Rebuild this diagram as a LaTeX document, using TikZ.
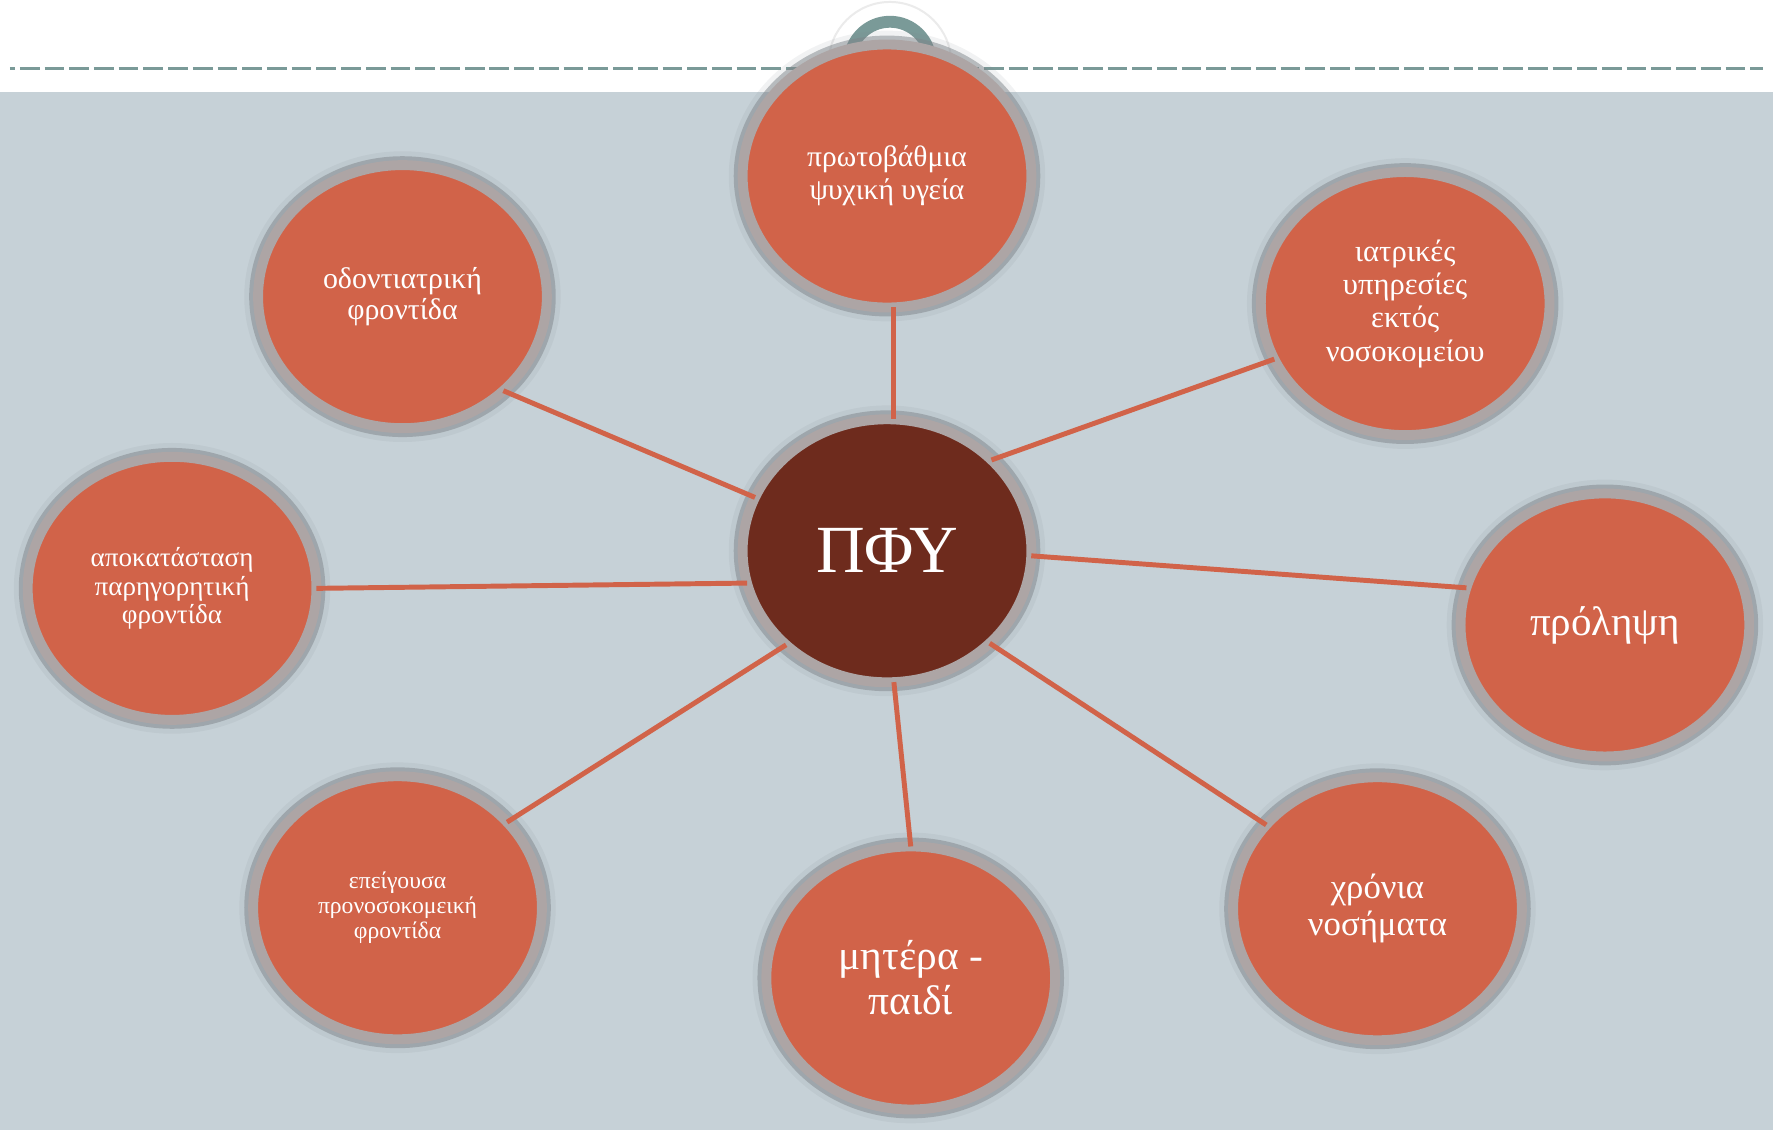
\documentclass[tikz,border=0pt]{standalone}
\usepackage{fontspec}
\setmainfont{Liberation Serif}
\usetikzlibrary{shapes.geometric}
\definecolor{bubred}{HTML}{D16349}
\definecolor{hubbrown}{HTML}{6E2B1D}
\definecolor{ringgray}{HTML}{ADA5A5}
\definecolor{shadegray}{HTML}{7F858A}
\definecolor{paneblue}{HTML}{C6D1D7}
\definecolor{rulegreen}{HTML}{7A9A98}
\newcommand{\bubtext}[2]{\fontsize{#1}{#2}\selectfont}
\tikzset{
	bubble/.style={ellipse, minimum width=2.92cm, minimum height=2.66cm, inner sep=0pt, outer sep=0pt,
		fill=bubred, draw=ringgray, line width=0.1cm, text=white, align=center,
		preaction={draw=shadegray, line width=0.28cm, draw opacity=0.1},
		preaction={draw=shadegray, line width=0.18cm, draw opacity=0.5}},
	spoke/.style={draw=bubred, line width=0.05cm}
}

\begin{document}
\begin{tikzpicture}
		%%%%% START %%%%%
		\fill[white] (0, 0) rectangle (17.73, 11.33);
		\fill[paneblue] (-0.1, -0.1) rectangle (17.83, 10.40);
		\draw[rulegreen, line width=0.03cm, dash pattern=on 0.2cm off 0.05cm, dash phase=0.15cm] (0, 10.64) -- (17.73, 10.64);
		
		\draw[black!8, line width=0.02cm] (8.90, 10.69) circle (0.62);
		\draw[rulegreen, line width=0.12cm] (8.49, 10.70) arc (180:0:0.41);
		
		\node[bubble, fill=hubbrown, font=\bubtext{19.4}{22}] (hub) at (8.87, 5.76) {ΠΦΥ};
		
		\node[bubble, font=\bubtext{8.5}{9.4}] (prot) at (8.87, 9.55) {πρωτοβάθμια\\ψυχική υγεία};
		\node[bubble, font=\bubtext{8.6}{9.1}] (odo) at (3.97, 8.33) {οδοντιατρική\\φροντίδα};
		\node[bubble, font=\bubtext{8.8}{9.6}] (iatr) at (14.11, 8.26) {ιατρικές\\υπηρεσίες\\εκτός\\νοσοκομείου};
		\node[bubble, font=\bubtext{7.8}{8.3}] (apok) at (1.64, 5.38) {αποκατάσταση\\παρηγορητική\\φροντίδα};
		\node[bubble, font=\bubtext{11.8}{13}] (prol) at (16.13, 5.01) {πρόληψη};
		\node[bubble, font=\bubtext{6.8}{7.2}] (epeig) at (3.92, 2.15) {επείγουσα\\προνοσοκομεική\\φροντίδα};
		\node[bubble, font=\bubtext{11.9}{13}] (mit) at (9.11, 1.44) {μητέρα -\\παιδί};
		\node[bubble, font=\bubtext{10.0}{10.6}] (chron) at (13.83, 2.14) {χρόνια\\νοσήματα};
		
		\draw[spoke] (prot.-87) -- (hub.87);
		\draw[spoke] (odo.-43) -- (hub.158);
		\draw[spoke] (iatr.203) -- (hub.41);
		\draw[spoke] (apok.0) -- (hub.193);
		\draw[spoke] (prol.165) -- (hub.-2);
		\draw[spoke] (epeig.38) -- (hub.223);
		\draw[spoke] (mit.90) -- (hub.-87);
		\draw[spoke] (chron.143) -- (hub.-42);
		%%%%% END %%%%%
\end{tikzpicture}
\end{document}
